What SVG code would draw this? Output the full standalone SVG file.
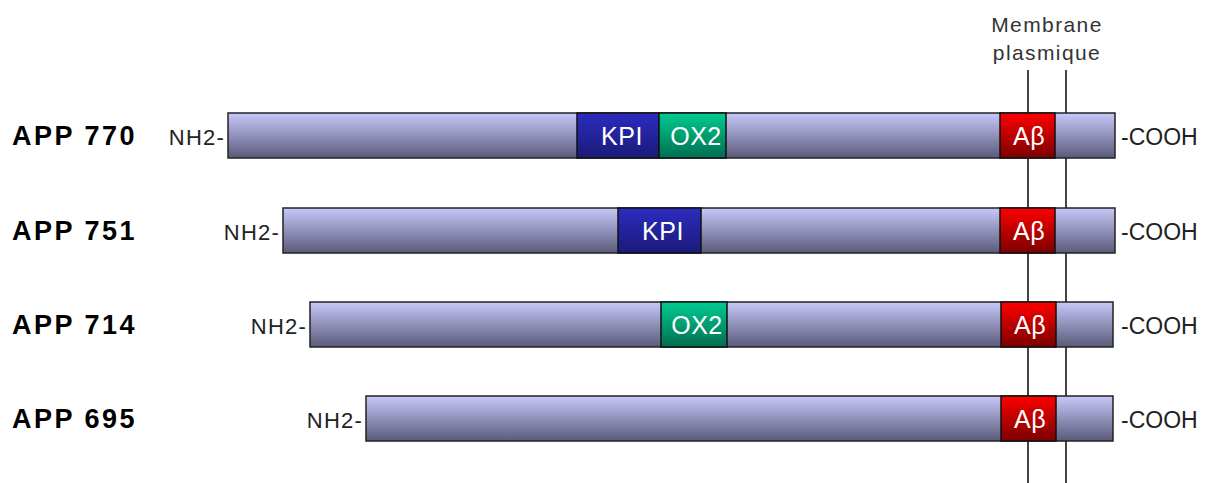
<svg xmlns="http://www.w3.org/2000/svg" width="1208" height="483" viewBox="0 0 1208 483">
<defs>
<linearGradient id="gBar" x1="0" y1="0" x2="0" y2="1"><stop offset="0" stop-color="#c8c8fa"/><stop offset="1" stop-color="#5a5a7a"/></linearGradient>
<linearGradient id="gKpi" x1="0" y1="0" x2="0" y2="1"><stop offset="0" stop-color="#2c2cc0"/><stop offset="1" stop-color="#1a1a78"/></linearGradient>
<linearGradient id="gOx" x1="0" y1="0" x2="0" y2="1"><stop offset="0" stop-color="#00cc92"/><stop offset="1" stop-color="#006e50"/></linearGradient>
<linearGradient id="gAb" x1="0" y1="0" x2="0" y2="1"><stop offset="0" stop-color="#ff0000"/><stop offset="1" stop-color="#7a0000"/></linearGradient>
</defs>
<style>
.bar{fill:url(#gBar);stroke:#222;stroke-width:1.5}
.kpi{fill:url(#gKpi);stroke:#111;stroke-width:1.5}
.ox{fill:url(#gOx);stroke:#111;stroke-width:1.5}
.ab{fill:url(#gAb);stroke:#111;stroke-width:1.5}
.dt{font-family:"Liberation Sans",Arial,sans-serif;font-size:25px;fill:#fff;text-anchor:middle;letter-spacing:0.5px}
.lbl{font-family:"Liberation Sans",Arial,sans-serif;font-size:27px;font-weight:bold;fill:#000;letter-spacing:2.5px}
.nh{font-family:"Liberation Sans",Arial,sans-serif;font-size:22px;fill:#222;letter-spacing:1.2px;text-anchor:end}
.co{font-family:"Liberation Sans",Arial,sans-serif;font-size:23px;fill:#222}
.mem{font-family:"Liberation Sans",Arial,sans-serif;font-size:21px;fill:#333;text-anchor:middle;letter-spacing:1.4px}
.ln{stroke:#444;stroke-width:2}
</style>
<g id="membrane">
<text class="mem" x="1047" y="32">Membrane</text>
<text class="mem" x="1047" y="60">plasmique</text>
</g>
<g id="connectors">
<line class="ln" x1="1028" y1="70" x2="1028" y2="483"/>
<line class="ln" x1="1066" y1="70" x2="1066" y2="483"/>
</g>
<g id="app770">
<text class="lbl" x="12" y="145">APP 770</text>
<text class="nh" x="225" y="145">NH2-</text>
<rect class="bar" x="228" y="113" width="887" height="45"/>
<rect class="kpi" x="577" y="113" width="82" height="45"/>
<text class="dt" x="622" y="145">KPI</text>
<rect class="ox" x="659" y="113" width="67" height="45"/>
<text class="dt" x="696" y="145">OX2</text>
<rect class="ab" x="1000" y="113" width="55" height="45"/>
<text class="dt" x="1029" y="145">Aβ</text>
<text class="co" x="1121" y="145">-COOH</text>
</g>
<g id="app751">
<text class="lbl" x="12" y="240">APP 751</text>
<text class="nh" x="280" y="240">NH2-</text>
<rect class="bar" x="283" y="208" width="832" height="45"/>
<rect class="kpi" x="618" y="208" width="83" height="45"/>
<text class="dt" x="663" y="240">KPI</text>
<rect class="ab" x="1000" y="208" width="55" height="45"/>
<text class="dt" x="1029" y="240">Aβ</text>
<text class="co" x="1121" y="240">-COOH</text>
</g>
<g id="app714">
<text class="lbl" x="12" y="334">APP 714</text>
<text class="nh" x="307" y="334">NH2-</text>
<rect class="bar" x="310" y="302" width="803" height="45"/>
<rect class="ox" x="661" y="302" width="66" height="45"/>
<text class="dt" x="697" y="334">OX2</text>
<rect class="ab" x="1001" y="302" width="55" height="45"/>
<text class="dt" x="1030" y="334">Aβ</text>
<text class="co" x="1121" y="334">-COOH</text>
</g>
<g id="app695">
<text class="lbl" x="12" y="428">APP 695</text>
<text class="nh" x="363" y="428">NH2-</text>
<rect class="bar" x="366" y="396" width="747" height="45"/>
<rect class="ab" x="1001" y="396" width="55" height="45"/>
<text class="dt" x="1030" y="428">Aβ</text>
<text class="co" x="1121" y="428">-COOH</text>
</g>
</svg>
